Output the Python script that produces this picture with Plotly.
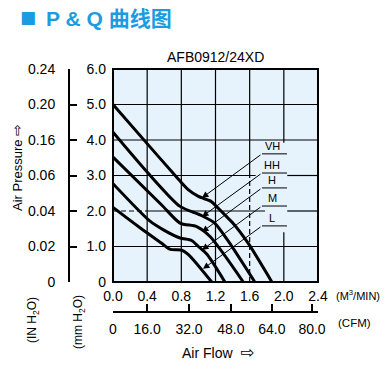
import plotly.graph_objects as go

# ---------------- data ----------------
flow_ticks = [0, 0.4, 0.8, 1.2, 1.6, 2.0, 2.4]
flow_labels = ["0.0", "0.4", "0.8", "1.2", "1.6", "2.0", "2.4"]
mm_ticks = [0, 1, 2, 3, 4, 5, 6]
mm_labels = ["0", "1.0", "2.0", "3.0", "4.0", "5.0", "6.0"]
in_labels = ["0", "0.02", "0.04", "0.06", "0.16", "0.20", "0.24"]
cfm_labels = ["0", "16.0", "32.0", "48.0", "64.0", "80.0"]
cfm_pos = [0, 0.40, 0.89, 1.38, 1.86, 2.33]

vh_q = [0, 0.41, 0.72, 0.88, 1.0, 1.15, 1.21, 1.33, 1.40, 1.58, 1.86]
vh_p = [5.0, 3.87, 3.02, 2.60, 2.41, 2.27, 2.13, 1.84, 1.67, 1.10, 0]
hh_q = [0, 0.41, 0.785, 1.02, 1.19, 1.35, 1.66]
hh_p = [4.22, 3.07, 2.13, 1.89, 1.66, 1.15, 0]
h_q = [0, 0.57, 0.785, 0.98, 1.136, 1.525]
h_p = [3.52, 2.17, 1.66, 1.56, 1.28, 0]
m_q = [0, 0.43, 0.59, 0.785, 0.92, 1.0, 1.10, 1.31]
m_p = [2.77, 1.72, 1.47, 1.24, 1.17, 1.0, 0.78, 0]
l_q = [0, 0.32, 0.57, 0.67, 0.80, 0.88, 1.156]
l_p = [2.1, 1.52, 1.09, 0.92, 0.90, 0.78, 0]

series_names = ["VH", "HH", "H", "M", "L"]
series_q = [vh_q, hh_q, h_q, m_q, l_q]
series_p = [vh_p, hh_p, h_p, m_p, l_p]

# leader-label layout (tip on curve, label row)
tip_q = [1.042, 1.042, 1.042, 1.042, 1.054]
tip_p = [2.37, 1.84, 1.41, 0.90, 0.37]
row_p = [3.61, 3.07, 2.65, 2.14, 1.58]

# page body has an 8px margin: the figure is drawn 8px in from the window corner
OFF = 8
W, H = 388 - OFF, 365 - OFF
FONT = "Liberation Sans, Arial, sans-serif"
BLUE = "#1b9be0"

def px(x):
    return (x - OFF) / W

def py(y):
    return 1 - (y - OFF) / H

fig = go.Figure()
for q, p, name in zip(series_q, series_p, series_names):
    fig.add_trace(go.Scatter(x=q, y=p, mode="lines", name=name,
                             line=dict(color="black", width=3, shape="spline", smoothing=0.7),
                             showlegend=False, hoverinfo="skip"))
# helper traces so the extra axes are drawn
fig.add_trace(go.Scatter(x=[0], y=[0], xaxis="x", yaxis="y2", mode="markers",
                         marker=dict(opacity=0), showlegend=False, hoverinfo="skip"))
fig.add_trace(go.Scatter(x=[0], y=[0], xaxis="x3", yaxis="y", mode="markers",
                         marker=dict(opacity=0), showlegend=False, hoverinfo="skip"))

shapes = []
def seg(x0, y0, x1, y1, dash=None, width=1.2):
    d = dict(type="line", xref="x", yref="y", x0=x0, y0=y0, x1=x1, y1=y1,
             line=dict(color="black", width=width), layer="below")
    if dash:
        d["line"]["dash"] = dash
    shapes.append(d)

for v in [0.4, 0.8, 1.2]:
    seg(v, 0, v, 6)
seg(1.6, 3.0, 1.6, 6)
seg(1.6, 0, 1.6, 3.0, dash="5px,3px")
seg(2.0, 3.92, 2.0, 6)
seg(2.0, 0, 2.0, 1.40)
seg(0, 5, 2.4, 5)
seg(0, 4, 2.4, 4)
seg(0, 3, 1.67, 3)
seg(2.04, 3, 2.4, 3)
seg(0, 2, 0.42, 2, dash="5px,3px")
seg(0.42, 2, 1.78, 2)
seg(2.04, 2, 2.4, 2)
seg(0, 1, 2.4, 1)

# plot frame
shapes.append(dict(type="rect", xref="x domain", yref="y domain", x0=0, y0=0, x1=1, y1=1,
                   line=dict(color="black", width=2)))

annotations = []
for name, tq, tp, rp in zip(series_names, tip_q, tip_p, row_p):
    annotations.append(dict(x=tq, y=tp, xref="x", yref="y", ax=1.744, ay=rp, axref="x", ayref="y",
                            showarrow=True, arrowhead=2, arrowsize=1.3, arrowwidth=1,
                            arrowcolor="black", text=""))
    seg(1.744, rp, 2.037, rp, width=1)
    annotations.append(dict(x=1.867, y=rp, xref="x", yref="y", text=name, showarrow=False,
                            yanchor="bottom", yshift=0, font=dict(family=FONT, size=11, color="black")))

def txt(x, y, text, size=12, angle=0, color="black", xanchor="center", yanchor="middle", family=FONT):
    annotations.append(dict(x=px(x), y=py(y), xref="paper", yref="paper", text=text,
                            showarrow=False, textangle=angle, xanchor=xanchor, yanchor=yanchor,
                            font=dict(family=family, size=size, color=color)))

ARROW = "<span style='font-family:DejaVu Sans;font-size:17px'>⇨</span>"
ARROW_V = "<span style='font-family:DejaVu Sans;font-size:14px'>⇨</span>"
txt(215, 57, "AFB0912/24XD", size=14)
txt(28, 17, "■", size=17, color=BLUE, family="DejaVu Sans")
txt(44, 18, "<b>P & Q 曲线图</b>", size=21, color=BLUE, xanchor="left",
    family="Liberation Sans, Noto Sans CJK SC, sans-serif")
txt(17, 168, "Air Pressure " + ARROW_V, size=13, angle=-90)
txt(33, 320, "(IN H<sub>2</sub>O)", size=12, angle=-90)
txt(79, 322, "(mm H<sub>2</sub>O)", size=12, angle=-90)
txt(334, 295, "(M<sup>3</sup>/MIN)", size=11, xanchor="left")
txt(336, 323, "(CFM)", size=11.5, xanchor="left")
txt(218, 352, "Air Flow  " + ARROW, size=14)

tickfont = dict(family=FONT, size=14, color="black")
common = dict(showgrid=False, zeroline=False, automargin=False, tickfont=tickfont)
fig.update_layout(
    template="none",
    width=W, height=H, margin=dict(l=0, r=0, t=0, b=0, pad=0), autosize=False,
    paper_bgcolor="white", plot_bgcolor="#e6f3fc",
    xaxis=dict(domain=[px(113), px(318)], range=[0, 2.4], tickvals=flow_ticks, ticktext=flow_labels,
               showline=False, ticks="", ticklabelstandoff=4, anchor="y", **common),
    yaxis=dict(domain=[py(282), py(69)], range=[0, 6], tickvals=mm_ticks, ticktext=mm_labels,
               showline=False, ticks="", ticklabelstandoff=6, anchor="x", **common),
    yaxis2=dict(overlaying="y", anchor="free", position=px(69), side="left", range=[0, 6],
                tickvals=mm_ticks, ticktext=in_labels,
                showline=True, linewidth=2, linecolor="black", ticks="inside", ticklen=7,
                tickwidth=2, tickcolor="black", ticklabelstandoff=10, **common),
    xaxis3=dict(overlaying="x", anchor="free", position=py(312), side="bottom", range=[0, 2.4],
                tickvals=cfm_pos, ticktext=cfm_labels,
                showline=True, linewidth=2, linecolor="black", ticks="inside", ticklen=7,
                tickwidth=2, tickcolor="black", ticklabelstandoff=4, **common),
    shapes=shapes, annotations=annotations,
)
fig.write_html("out.html")
